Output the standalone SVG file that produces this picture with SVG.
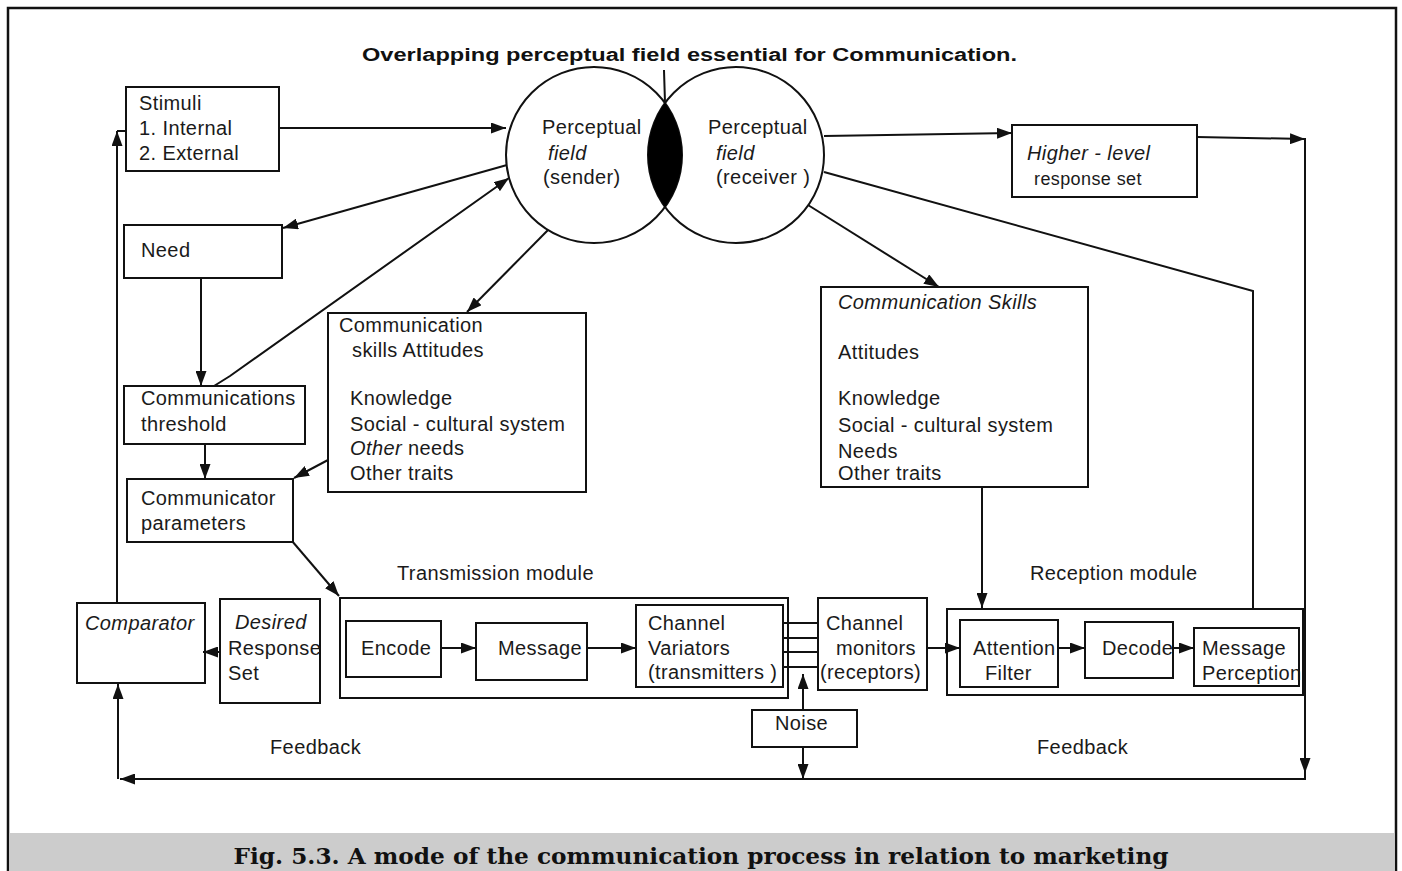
<svg xmlns="http://www.w3.org/2000/svg" width="1402" height="871" viewBox="0 0 1402 871">
  <defs>
    <marker id="arrow" markerWidth="15" markerHeight="11" refX="15" refY="5.5" orient="auto" markerUnits="userSpaceOnUse">
      <path d="M0,0 L15,5.5 L0,11 Z" fill="#111"/>
    </marker>
    <style>
      .box { fill: #fff; stroke: #111; stroke-width: 2; }
      .frame { fill: none; stroke: #111; stroke-width: 2; }
      .ln { fill: none; stroke: #111; stroke-width: 2; }
      .t { font-family: "Liberation Sans", Arial, sans-serif; font-size: 20px; letter-spacing: 0.4px; fill: #1a1a1a; }
      .i { font-style: italic; }
      .title { font-family: "Liberation Sans", Arial, sans-serif; font-size: 18px; font-weight: bold; fill: #111; }
      .cap { font-family: "DejaVu Serif", "Liberation Serif", serif; font-size: 22px; font-weight: bold; fill: #111; }
    </style>
  </defs>

  <!-- page frame and caption band -->
  <rect x="8" y="8" width="1388" height="880" fill="#fff" stroke="#111" stroke-width="2.5"/>
  <rect x="9.5" y="833" width="1385" height="40" fill="#cccccc"/>
  <text class="cap" x="701" y="864" text-anchor="middle" textLength="935" lengthAdjust="spacingAndGlyphs">Fig. 5.3. A mode of the communication process in relation to marketing</text>

  <!-- heading above the overlapping fields -->
  <text class="title" x="362" y="61" textLength="655" lengthAdjust="spacingAndGlyphs">Overlapping perceptual field essential for Communication.</text>

  <!-- overlapping perceptual fields -->
  <g id="field-sender">
    <circle cx="594" cy="155" r="88" fill="none" stroke="#111" stroke-width="2"/>
    <text class="t" x="542" y="134">Perceptual</text>
    <text class="t i" x="548" y="160">field</text>
    <text class="t" x="543" y="184">(sender)</text>
  </g>
  <g id="field-receiver">
    <circle cx="736" cy="155" r="88" fill="none" stroke="#111" stroke-width="2"/>
    <text class="t" x="708" y="134">Perceptual</text>
    <text class="t i" x="716" y="160">field</text>
    <text class="t" x="716" y="184">(receiver )</text>
  </g>
  <g id="field-overlap">
    <path d="M665,103 A88,88 0 0 1 665,207 A88,88 0 0 1 665,103 Z" fill="#000"/>
  </g>

  <g id="stimuli">
    <rect class="box" x="126" y="87" width="153" height="84"/>
    <text class="t" x="139" y="110">Stimuli</text>
    <text class="t" x="139" y="135">1. Internal</text>
    <text class="t" x="139" y="160">2. External</text>
  </g>
  <g id="need">
    <rect class="box" x="124" y="225" width="158" height="53"/>
    <text class="t" x="141" y="257">Need</text>
  </g>
  <g id="threshold">
    <rect class="box" x="124" y="386" width="181" height="58"/>
    <text class="t" x="141" y="405">Communications</text>
    <text class="t" x="141" y="431">threshold</text>
  </g>
  <g id="parameters">
    <rect class="box" x="127" y="479" width="166" height="63"/>
    <text class="t" x="141" y="505">Communicator</text>
    <text class="t" x="141" y="530">parameters</text>
  </g>
  <g id="sender-skills">
    <rect class="box" x="328" y="313" width="258" height="179"/>
    <text class="t" x="339" y="332">Communication</text>
    <text class="t" x="352" y="357">skills Attitudes</text>
    <text class="t" x="350" y="405">Knowledge</text>
    <text class="t" x="350" y="431">Social - cultural system</text>
    <text class="t" x="350" y="455"><tspan class="i">Other</tspan> needs</text>
    <text class="t" x="350" y="480">Other traits</text>
  </g>
  <g id="receiver-skills">
    <rect class="box" x="821" y="287" width="267" height="200"/>
    <text class="t i" x="838" y="309">Communication Skills</text>
    <text class="t" x="838" y="359">Attitudes</text>
    <text class="t" x="838" y="405">Knowledge</text>
    <text class="t" x="838" y="432">Social - cultural system</text>
    <text class="t" x="838" y="458">Needs</text>
    <text class="t" x="838" y="480">Other traits</text>
  </g>
  <g id="higher-level">
    <rect class="box" x="1012" y="125" width="185" height="72"/>
    <text class="t i" x="1027" y="160">Higher - level</text>
    <text class="t" x="1034" y="185" style="font-size:18px">response set</text>
  </g>

  <g id="comparator">
    <rect class="box" x="77" y="603" width="128" height="80"/>
    <text class="t i" x="85" y="630">Comparator</text>
  </g>
  <g id="desired-response">
    <rect class="box" x="220" y="599" width="100" height="104"/>
    <text class="t i" x="235" y="629">Desired</text>
    <text class="t" x="228" y="655">Response</text>
    <text class="t" x="228" y="680">Set</text>
  </g>

  <g id="transmission-module">
    <text class="t" x="397" y="580">Transmission module</text>
    <rect class="frame" x="340" y="598" width="448" height="100"/>
  </g>
  <g id="encode">
    <rect class="box" x="346" y="621" width="95" height="56"/>
    <text class="t" x="361" y="655">Encode</text>
  </g>
  <g id="message">
    <rect class="box" x="476" y="623" width="111" height="57"/>
    <text class="t" x="498" y="655">Message</text>
  </g>
  <g id="channel-variators">
    <rect class="box" x="636" y="605" width="147" height="82"/>
    <text class="t" x="648" y="630">Channel</text>
    <text class="t" x="648" y="655">Variators</text>
    <text class="t" x="648" y="679">(transmitters )</text>
  </g>
  <g id="channel-monitors">
    <rect class="box" x="818" y="598" width="109" height="92"/>
    <text class="t" x="826" y="630">Channel</text>
    <text class="t" x="836" y="655">monitors</text>
    <text class="t" x="820" y="679">(receptors)</text>
  </g>
  <g id="noise">
    <rect class="box" x="752" y="710" width="105" height="37"/>
    <text class="t" x="775" y="730">Noise</text>
  </g>

  <g id="reception-module">
    <text class="t" x="1030" y="580">Reception module</text>
    <rect class="frame" x="947" y="609" width="356" height="86"/>
  </g>
  <g id="attention-filter">
    <rect class="box" x="960" y="620" width="98" height="67"/>
    <text class="t" x="973" y="655">Attention</text>
    <text class="t" x="985" y="680">Filter</text>
  </g>
  <g id="decode">
    <rect class="box" x="1085" y="622" width="88" height="56"/>
    <text class="t" x="1102" y="655">Decode</text>
  </g>
  <g id="message-perception">
    <rect class="box" x="1194" y="628" width="105" height="58"/>
    <text class="t" x="1202" y="655">Message</text>
    <text class="t" x="1202" y="680">Perception</text>
  </g>

  <g id="feedback-labels">
    <text class="t" x="270" y="754">Feedback</text>
    <text class="t" x="1037" y="754">Feedback</text>
  </g>

  <!-- connectors, drawn over the boxes so every arrowhead shows -->
  <g id="connectors">
    <line class="ln" x1="664" y1="70" x2="665" y2="103"/>
    <line class="ln" x1="279" y1="128" x2="506" y2="128" marker-end="url(#arrow)"/>
    <line class="ln" x1="507" y1="165" x2="283" y2="228" marker-end="url(#arrow)"/>
    <polyline class="ln" points="214,386 230,376 509,178" marker-end="url(#arrow)"/>
    <line class="ln" x1="201" y1="278" x2="201" y2="386" marker-end="url(#arrow)"/>
    <line class="ln" x1="548" y1="230" x2="467" y2="312" marker-end="url(#arrow)"/>
    <line class="ln" x1="205" y1="444" x2="205" y2="479" marker-end="url(#arrow)"/>
    <line class="ln" x1="328" y1="460" x2="294" y2="478" marker-end="url(#arrow)"/>
    <line class="ln" x1="292" y1="541" x2="339" y2="596" marker-end="url(#arrow)"/>
    <line class="ln" x1="117" y1="603" x2="117" y2="131" marker-end="url(#arrow)"/>
    <line class="ln" x1="117" y1="131" x2="126" y2="131"/>
    <line class="ln" x1="220" y1="652" x2="203" y2="652" marker-end="url(#arrow)"/>
    <line class="ln" x1="441" y1="648" x2="476" y2="648" marker-end="url(#arrow)"/>
    <line class="ln" x1="587" y1="648" x2="636" y2="648" marker-end="url(#arrow)"/>
    <line class="ln" x1="783" y1="623" x2="818" y2="623"/>
    <line class="ln" x1="783" y1="638" x2="818" y2="638"/>
    <line class="ln" x1="783" y1="652" x2="818" y2="652"/>
    <line class="ln" x1="783" y1="667" x2="818" y2="667"/>
    <line class="ln" x1="803" y1="710" x2="803" y2="674" marker-end="url(#arrow)"/>
    <line class="ln" x1="803" y1="747" x2="803" y2="779" marker-end="url(#arrow)"/>
    <line class="ln" x1="927" y1="648" x2="960" y2="648" marker-end="url(#arrow)"/>
    <line class="ln" x1="1058" y1="648" x2="1085" y2="648" marker-end="url(#arrow)"/>
    <line class="ln" x1="1173" y1="648" x2="1194" y2="648" marker-end="url(#arrow)"/>
    <line class="ln" x1="824" y1="136" x2="1012" y2="133" marker-end="url(#arrow)"/>
    <line class="ln" x1="1197" y1="137" x2="1305" y2="139" marker-end="url(#arrow)"/>
    <line class="ln" x1="1305" y1="138" x2="1305" y2="773" marker-end="url(#arrow)"/>
    <polyline class="ln" points="1305,772 1305,779 120,779" marker-end="url(#arrow)"/>
    <line class="ln" x1="118" y1="779" x2="118" y2="684" marker-end="url(#arrow)"/>
    <polyline class="ln" points="824,172 1253,291 1253,609"/>
    <line class="ln" x1="808" y1="205" x2="939" y2="287" marker-end="url(#arrow)"/>
    <line class="ln" x1="982" y1="487" x2="982" y2="608" marker-end="url(#arrow)"/>
  </g>
</svg>
